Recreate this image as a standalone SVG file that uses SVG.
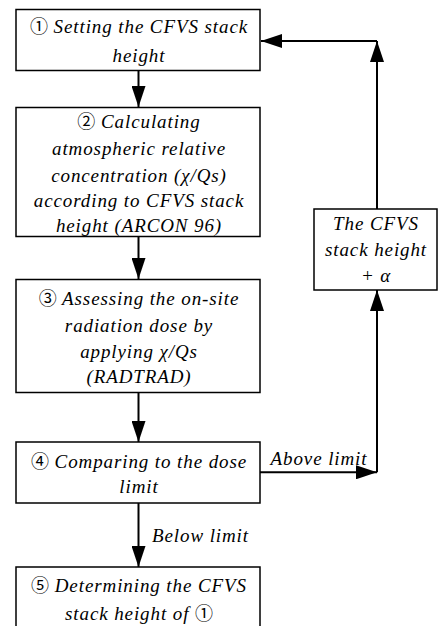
<svg xmlns="http://www.w3.org/2000/svg" width="438" height="626" viewBox="0 0 438 626">
<defs>
<style>
.box{fill:#fff;stroke:#000;stroke-width:1.5}
.t{font-family:'Liberation Serif','Times New Roman',serif;font-style:italic;font-size:19px;fill:#000;text-anchor:middle;letter-spacing:0.9px}
.c{font-family:'Noto Sans CJK SC','DejaVu Sans',sans-serif;font-style:normal;font-size:18px;letter-spacing:0}
.ln{fill:none;stroke:#000;stroke-width:2}
</style>
<marker id="ah" markerWidth="22" markerHeight="14" refX="21" refY="7" orient="auto" markerUnits="userSpaceOnUse">
<path d="M0,0 L21,7 L0,14 Z" fill="#000"/>
</marker>
</defs>
<rect width="438" height="626" fill="#fff"/>
<g id="connectors">
<line class="ln" x1="138.5" y1="71" x2="138.5" y2="107" marker-end="url(#ah)"/>
<line class="ln" x1="138.5" y1="237" x2="138.5" y2="279" marker-end="url(#ah)"/>
<line class="ln" x1="138.5" y1="392" x2="138.5" y2="442" marker-end="url(#ah)"/>
<line class="ln" x1="138.5" y1="503" x2="138.5" y2="567" marker-end="url(#ah)"/>
<line class="ln" x1="260" y1="472.3" x2="377" y2="472.3" marker-end="url(#ah)"/>
<line class="ln" x1="377" y1="472.3" x2="377" y2="290" marker-end="url(#ah)"/>
<line class="ln" x1="377" y1="209" x2="377" y2="41" marker-end="url(#ah)"/>
<line class="ln" x1="377" y1="41" x2="261" y2="41" marker-end="url(#ah)"/>
<text class="t" x="319" y="465">Above limit</text>
<text class="t" x="200.5" y="541.5">Below limit</text>
</g>
<g id="n1">
<rect class="box" x="16" y="9.5" width="244" height="61"/>
<text class="t" x="139" y="33.3"><tspan class="c">①</tspan> Setting the CFVS stack</text>
<text class="t" x="139" y="61.7">height</text>
</g>
<g id="n2">
<rect class="box" x="16" y="107.5" width="244" height="129"/>
<text class="t" x="139" y="128.3"><tspan class="c">②</tspan> Calculating</text>
<text class="t" x="139" y="155">atmospheric relative</text>
<text class="t" x="139" y="181.7">concentration (χ/Qs)</text>
<text class="t" x="139" y="206.7">according to CFVS stack</text>
<text class="t" x="139" y="231.7">height (ARCON 96)</text>
</g>
<g id="n3">
<rect class="box" x="16" y="279.5" width="244" height="113"/>
<text class="t" x="139" y="305"><tspan class="c">③</tspan> Assessing the on-site</text>
<text class="t" x="139" y="331.7">radiation dose by</text>
<text class="t" x="139" y="358">applying χ/Qs</text>
<text class="t" x="139" y="383.3">(RADTRAD)</text>
</g>
<g id="n4">
<rect class="box" x="16" y="442" width="244" height="61"/>
<text class="t" x="139" y="468"><tspan class="c">④</tspan> Comparing to the dose</text>
<text class="t" x="139" y="493">limit</text>
</g>
<g id="n5">
<rect class="box" x="16" y="567" width="244" height="70"/>
<text class="t" x="139" y="591.7"><tspan class="c">⑤</tspan> Determining the CFVS</text>
<text class="t" x="139" y="620">stack height of <tspan class="c">①</tspan></text>
</g>
<g id="n6">
<rect class="box" x="314" y="209" width="123" height="81"/>
<text class="t" x="376" y="230">The CFVS</text>
<text class="t" x="376" y="256">stack height</text>
<text class="t" x="376" y="281.7">+ α</text>
</g>
</svg>
